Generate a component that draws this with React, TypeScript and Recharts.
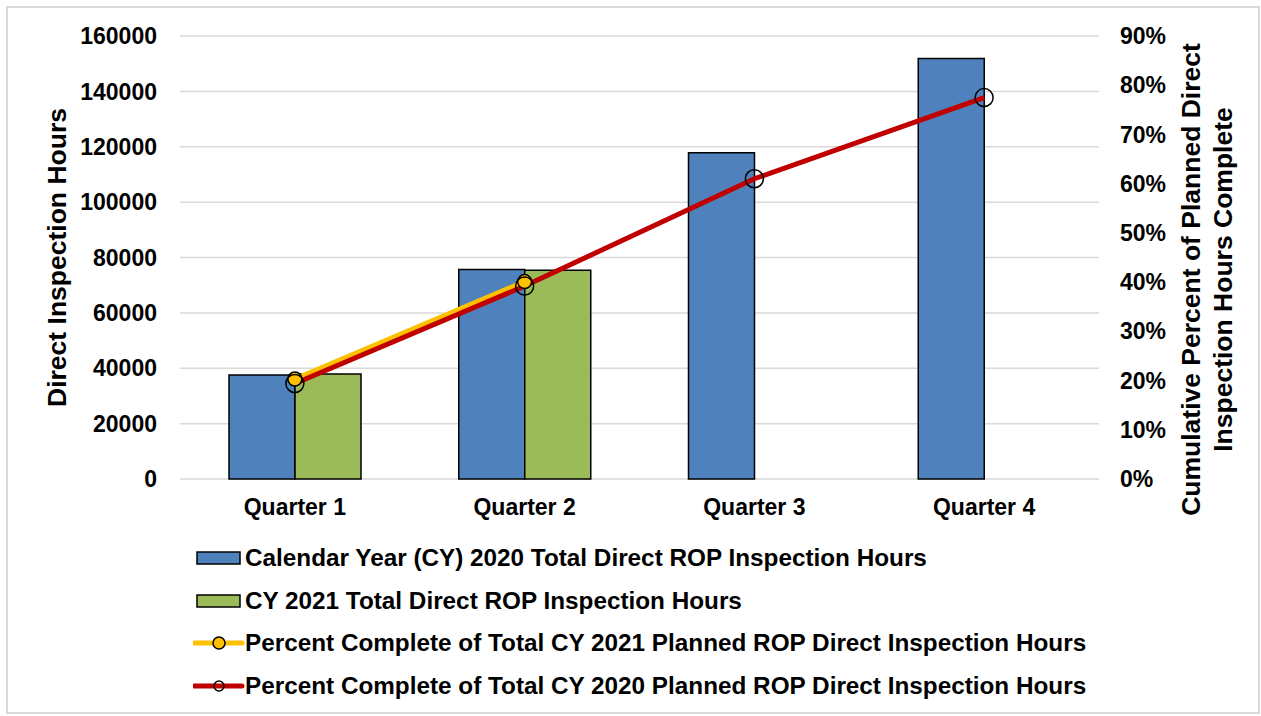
import React from 'react';
import { ComposedChart, Bar, Line, XAxis, YAxis, CartesianGrid, Legend } from 'recharts';

// Quarters on the x axis
const quarters = ['Quarter 1', 'Quarter 2', 'Quarter 3', 'Quarter 4'];

// Direct inspection hours per quarter
const hours2020 = [37600, 75700, 117800, 151900];
const hours2021 = [37900, 75400, null, null];

// Cumulative percent complete (right axis)
const pct2021 = [20.3, 40.1, null, null];
const pct2020 = [19.4, 39.2, 61.0, 77.5];

const leftTicks = [0, 20000, 40000, 60000, 80000, 100000, 120000, 140000, 160000];
const rightTicks = [0, 10, 20, 30, 40, 50, 60, 70, 80, 90];

const seriesNames = [
    'Calendar Year (CY) 2020 Total Direct ROP Inspection Hours',
    'CY 2021 Total Direct ROP Inspection Hours',
    'Percent Complete of Total CY 2021 Planned ROP Direct Inspection Hours',
    'Percent Complete of Total CY 2020 Planned ROP Direct Inspection Hours',
];

const BLUE = '#4F81BD';
const GREEN = '#9BBB59';
const YELLOW = '#FFC000';
const RED = '#C00000';
const FONT = '"Liberation Sans", Arial, sans-serif';

const data = quarters.map((q, i) => ({
    name: q,
    h2020: hours2020[i],
    h2021: hours2021[i],
    p2021: pct2021[i],
    p2020: pct2020[i],
}));

// legend rows in the same order as the original chart
const legendItems = [
    { name: seriesNames[0], type: 'rect', color: BLUE },
    { name: seriesNames[1], type: 'rect', color: GREEN },
    { name: seriesNames[2], type: 'line', color: YELLOW, dotFill: YELLOW, r: 6 },
    { name: seriesNames[3], type: 'line', color: RED, dotFill: 'none', r: 5 },
];

const renderLegend = () => {
    return (
        <div style={{ fontFamily: FONT, fontWeight: 'bold', fontSize: 24.3, color: '#000' }}>
            {legendItems.map((item, i) => (
                <div key={i} style={{ display: 'flex', alignItems: 'center', height: 42.5, whiteSpace: 'nowrap' }}>
                    <svg width={52} height={20}>
                        {item.type === 'rect' ? (
                            <rect x={4} y={4} width={43} height={12} fill={item.color} stroke="#000" strokeWidth={1.5} />
                        ) : (
                            <g>
                                <line x1={1} y1={10} x2={49} y2={10} stroke={item.color} strokeWidth={5} strokeLinecap="round" />
                                <circle cx={26} cy={10} r={item.r} fill={item.dotFill} stroke="#000" strokeWidth={1.5} />
                            </g>
                        )}
                    </svg>
                    <span>{item.name}</span>
                </div>
            ))}
        </div>
    );
};

const tickStyle = { fontFamily: FONT, fontWeight: 'bold', fontSize: 23, fill: '#000' };

const App: React.FC = () => {
    return (
        <div style={{ position: 'absolute', left: 0, top: 0, width: 1261, height: 716, background: '#fff' }}>
            <div style={{ position: 'absolute', left: 6, top: 6, width: 1250, height: 704, border: '2px solid #d9d9d9' }} />
            <ComposedChart
                width={1261}
                height={716}
                data={data}
                margin={{ top: 36, right: 0, bottom: 197, left: 0 }}
                barGap={0}
            >
                <CartesianGrid yAxisId="left" vertical={false} stroke="#d9d9d9" strokeWidth={1.5} />
                <XAxis
                    dataKey="name"
                    height={40}
                    axisLine={false}
                    tickLine={false}
                    tickSize={0}
                    tickMargin={20}
                    tick={tickStyle}
                />
                <YAxis
                    yAxisId="left"
                    width={180}
                    domain={[0, 160000]}
                    ticks={leftTicks}
                    interval={0}
                    axisLine={false}
                    tickLine={false}
                    tickSize={0}
                    tickMargin={23}
                    tick={tickStyle}
                    label={(p: any) => {
                        const vb = p.viewBox;
                        const cx = vb.x + 57;
                        const cy = vb.y + vb.height / 2;
                        return (
                            <text x={cx} y={cy} transform={`rotate(-90, ${cx}, ${cy})`} textAnchor="middle"
                                dominantBaseline="central" style={{ fontFamily: FONT, fontWeight: 'bold', fontSize: 26.5 }} fill="#000">
                                Direct Inspection Hours
                            </text>
                        );
                    }}
                />
                <YAxis
                    yAxisId="right"
                    orientation="right"
                    width={162}
                    domain={[0, 90]}
                    ticks={rightTicks}
                    interval={0}
                    tickFormatter={(v: number) => `${v}%`}
                    axisLine={false}
                    tickLine={false}
                    tickSize={0}
                    tickMargin={21}
                    tick={tickStyle}
                    label={(p: any) => {
                        const vb = p.viewBox;
                        const cy = vb.y + vb.height / 2 + 22;
                        const x1 = vb.x + 92;
                        const x2 = vb.x + 124;
                        const st = { fontFamily: FONT, fontWeight: 'bold', fontSize: 26.5 };
                        return (
                            <g>
                                <text x={x1} y={cy} transform={`rotate(-90, ${x1}, ${cy})`} textAnchor="middle"
                                    dominantBaseline="central" style={st} fill="#000">
                                    Cumulative Percent of Planned Direct
                                </text>
                                <text x={x2} y={cy} transform={`rotate(-90, ${x2}, ${cy})`} textAnchor="middle"
                                    dominantBaseline="central" style={st} fill="#000">
                                    Inspection Hours Complete
                                </text>
                            </g>
                        );
                    }}
                />
                <Legend
                    layout="horizontal"
                    verticalAlign="middle"
                    align="center"
                    content={renderLegend}
                    wrapperStyle={{ left: 193, top: 537, width: 'auto', height: 'auto' }}
                />
                <Bar yAxisId="left" dataKey="h2020" name={seriesNames[0]} fill={BLUE} stroke="#000" strokeWidth={1.5}
                    barSize={66} isAnimationActive={false} />
                <Bar yAxisId="left" dataKey="h2021" name={seriesNames[1]} fill={GREEN} stroke="#000" strokeWidth={1.5}
                    barSize={66} isAnimationActive={false} />
                <Line yAxisId="right" dataKey="p2021" name={seriesNames[2]} stroke={YELLOW} strokeWidth={5}
                    dot={{ r: 7, fill: YELLOW, stroke: '#000', strokeWidth: 1.5 }} activeDot={false}
                    isAnimationActive={false} />
                <Line yAxisId="right" dataKey="p2020" name={seriesNames[3]} stroke={RED} strokeWidth={5}
                    dot={{ r: 9, fill: 'none', stroke: '#000', strokeWidth: 1.5 }} activeDot={false}
                    isAnimationActive={false} />
            </ComposedChart>
        </div>
    );
};

export default App;
